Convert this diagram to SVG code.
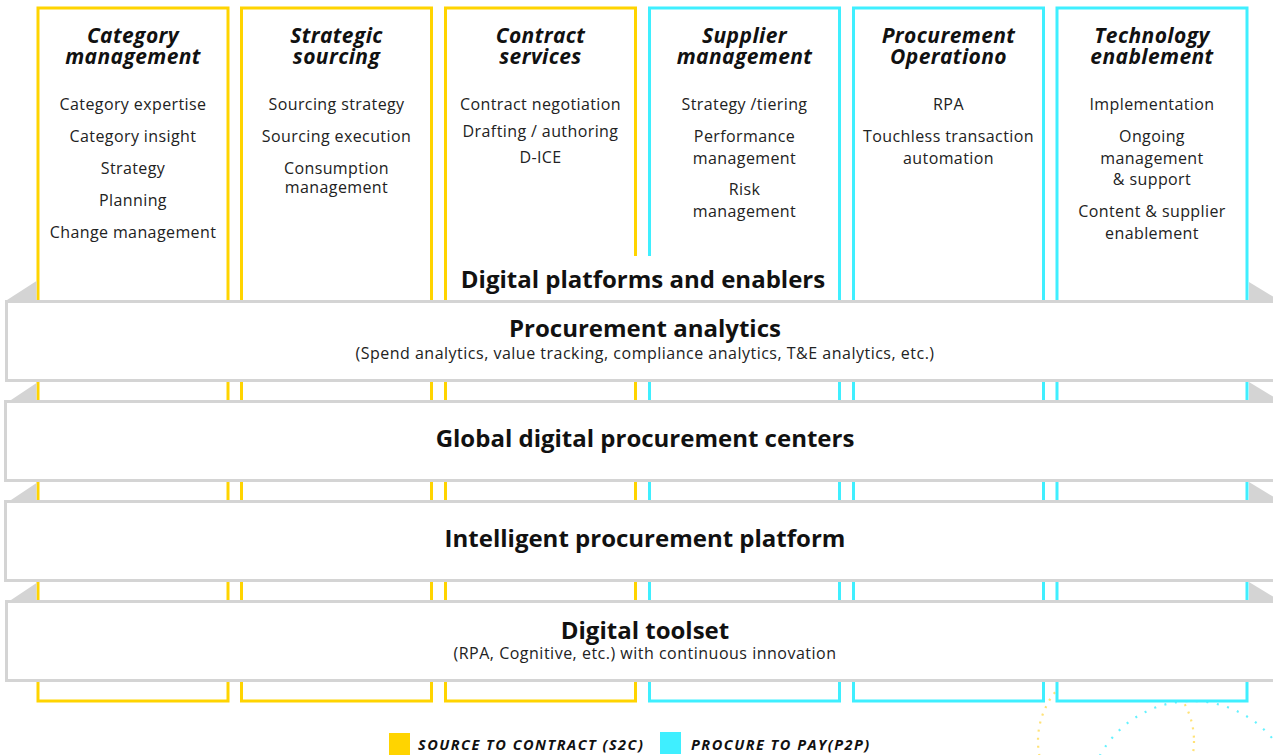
<svg xmlns="http://www.w3.org/2000/svg" width="1273" height="755" viewBox="0 0 1273 755">
<style>
.col{fill:#fff;stroke-width:3}
.y{stroke:#FFD400}
.c{stroke:#3FEFFF}
.ttl{font-family:"Open Sans","Liberation Sans",sans-serif;font-weight:700;font-style:italic;font-size:21px;letter-spacing:0.4px;fill:#111;text-anchor:middle}
.itm{font-family:"Open Sans","Liberation Sans",sans-serif;font-size:16px;letter-spacing:0.4px;fill:#222;text-anchor:middle}
.band{fill:#fff;stroke:#D4D4D4;stroke-width:3}
.bev{fill:#D4D4D4}
.bt{font-family:"Open Sans","Liberation Sans",sans-serif;font-weight:700;font-size:24px;fill:#111;text-anchor:middle}
.bs{font-family:"Open Sans","Liberation Sans",sans-serif;font-size:16px;letter-spacing:0.5px;fill:#222;text-anchor:middle}
.lg{font-family:"Open Sans","Liberation Sans",sans-serif;font-weight:700;font-style:italic;font-size:14.5px;letter-spacing:1.5px;fill:#111}
</style>
<rect width="1273" height="755" fill="#fff"/>
<g id="decor" fill="none" stroke-width="2.2">
  <circle cx="1116" cy="741" r="78" stroke="#FFD84A" stroke-opacity="0.75" stroke-dasharray="2 6.2"/>
  <circle cx="1192" cy="806" r="105" stroke="#3FEFFF" stroke-opacity="0.8" stroke-dasharray="2 8.6"/>
</g>
<g id="col-category">
  <rect class="col y" x="38" y="8" width="190" height="693"/>
  <text class="ttl" x="133" y="43">Category</text>
  <text class="ttl" x="133" y="64">management</text>
  <text class="itm" x="133" y="110">Category expertise</text>
  <text class="itm" x="133" y="142">Category insight</text>
  <text class="itm" x="133" y="174">Strategy</text>
  <text class="itm" x="133" y="206">Planning</text>
  <text class="itm" x="133" y="238">Change management</text>
</g>
<g id="col-sourcing">
  <rect class="col y" x="241.5" y="8" width="190" height="693"/>
  <text class="ttl" x="336.5" y="43">Strategic</text>
  <text class="ttl" x="336.5" y="64">sourcing</text>
  <text class="itm" x="336.5" y="110">Sourcing strategy</text>
  <text class="itm" x="336.5" y="142">Sourcing execution</text>
  <text class="itm" x="336.5" y="174">Consumption</text>
  <text class="itm" x="336.5" y="193">management</text>
</g>
<g id="col-contract">
  <rect class="col y" x="445.5" y="8" width="190" height="693"/>
  <text class="ttl" x="540.5" y="43">Contract</text>
  <text class="ttl" x="540.5" y="64">services</text>
  <text class="itm" x="540.5" y="110">Contract negotiation</text>
  <text class="itm" x="540.5" y="137">Drafting / authoring</text>
  <text class="itm" x="540.5" y="163">D-ICE</text>
</g>
<g id="col-supplier">
  <rect class="col c" x="649.5" y="8" width="190" height="693"/>
  <text class="ttl" x="744.5" y="43">Supplier</text>
  <text class="ttl" x="744.5" y="64">management</text>
  <text class="itm" x="744.5" y="110">Strategy /tiering</text>
  <text class="itm" x="744.5" y="142">Performance</text>
  <text class="itm" x="744.5" y="163.5">management</text>
  <text class="itm" x="744.5" y="195">Risk</text>
  <text class="itm" x="744.5" y="216.5">management</text>
</g>
<g id="col-operations">
  <rect class="col c" x="853.5" y="8" width="190" height="693"/>
  <text class="ttl" x="948.5" y="43">Procurement</text>
  <text class="ttl" x="948.5" y="64">Operationo</text>
  <text class="itm" x="948.5" y="110">RPA</text>
  <text class="itm" x="948.5" y="142">Touchless transaction</text>
  <text class="itm" x="948.5" y="163.5">automation</text>
</g>
<g id="col-technology">
  <rect class="col c" x="1057" y="8" width="190" height="693"/>
  <text class="ttl" x="1152" y="43">Technology</text>
  <text class="ttl" x="1152" y="64">enablement</text>
  <text class="itm" x="1152" y="110">Implementation</text>
  <text class="itm" x="1152" y="142">Ongoing</text>
  <text class="itm" x="1152" y="163.5">management</text>
  <text class="itm" x="1152" y="185">&amp; support</text>
  <text class="itm" x="1152" y="217">Content &amp; supplier</text>
  <text class="itm" x="1152" y="238.5">enablement</text>
</g>
<g id="digital-platforms">
  <rect x="449" y="256" width="386" height="44" fill="#fff"/>
  <text class="bt" x="643" y="288">Digital platforms and enablers</text>
</g>
<g id="band-analytics">
  <rect class="band" x="6.5" y="301.5" width="1280" height="79"/>
  <polygon class="bev" points="7,300 36.5,281 36.5,300"/>
  <polygon class="bev" points="1249,282 1282,302 1249,302"/>
  <text class="bt" x="645" y="337">Procurement analytics</text>
  <text class="bs" x="645" y="359">(Spend analytics, value tracking, compliance analytics, T&amp;E analytics, etc.)</text>
</g>
<g id="band-centers">
  <rect class="band" x="5.5" y="401.5" width="1280" height="79"/>
  <polygon class="bev" points="11,400 36.5,383 36.5,400"/>
  <polygon class="bev" points="1249,382 1282,402 1249,402"/>
  <text class="bt" x="645" y="447">Global digital procurement centers</text>
</g>
<g id="band-platform">
  <rect class="band" x="5.5" y="501.5" width="1280" height="79"/>
  <polygon class="bev" points="11,500 36.5,483 36.5,500"/>
  <polygon class="bev" points="1249,482 1282,502 1249,502"/>
  <text class="bt" x="645" y="547">Intelligent procurement platform</text>
</g>
<g id="band-toolset">
  <rect class="band" x="6.5" y="601.5" width="1280" height="79"/>
  <polygon class="bev" points="11,600 36.5,583 36.5,600"/>
  <polygon class="bev" points="1249,582 1282,602 1249,602"/>
  <text class="bt" x="645" y="639">Digital toolset</text>
  <text class="bs" x="645" y="659">(RPA, Cognitive, etc.) with continuous innovation</text>
</g>
<g id="legend">
  <rect x="389" y="733" width="21" height="22" fill="#FFD400"/>
  <text class="lg" x="418" y="750">SOURCE TO CONTRACT (S2C)</text>
  <rect x="660" y="732" width="21" height="22" fill="#3FEFFF"/>
  <text class="lg" x="691" y="750">PROCURE TO PAY(P2P)</text>
</g>
</svg>
